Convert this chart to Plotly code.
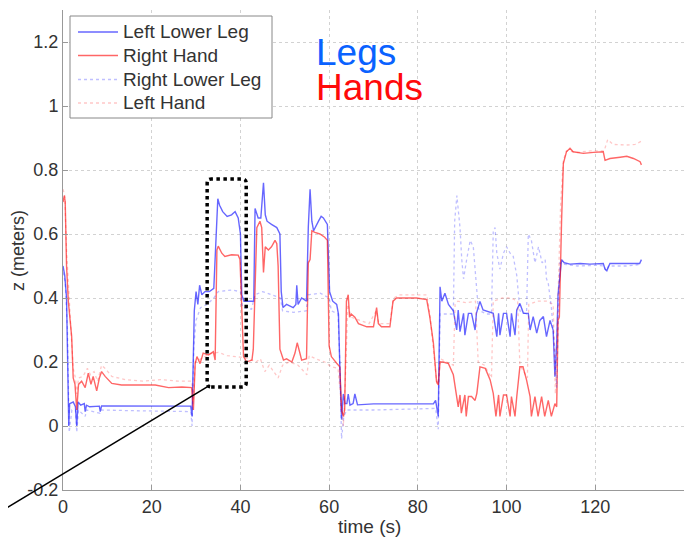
import plotly.graph_objects as go

# ---------------- data ----------------
lll_t = [0, 0.4, 0.8, 1.1, 1.3, 1.5, 2.3, 2.8, 3.1, 3.4, 4.0, 4.8, 5.0, 5.3, 6.0, 8.2, 8.4, 8.7, 15, 22, 28.8,
         29.1, 29.3, 29.6, 30.0, 30.4, 30.8, 31.3, 32.0, 33.0, 34.0, 34.4, 34.9, 35.3, 36.0, 37.0, 38.0, 38.8,
         39.5, 40.0, 40.3, 40.8, 42.0, 43.0, 43.3, 44.0, 44.6, 45.2, 45.6, 46.0, 47.0, 48.2, 48.9, 49.2, 49.6,
         50.4, 51.9, 52.5, 52.7, 53.0, 53.8, 54.9, 55.3, 55.7, 56.1, 56.5, 57.6, 58.2, 58.7, 59.6, 60.1, 60.8,
         61.7, 62.1, 62.4, 62.8, 63.2, 63.6, 64.0, 64.3, 64.7, 65.4, 65.8, 66.4, 70, 75, 80, 83.5, 84.0, 84.6,
         85.0, 85.4, 86.1, 86.9, 88.0, 88.75, 89.1, 89.5, 90.3, 90.6, 91.4, 92.1, 92.9, 93.2, 94.0, 94.7, 97.0,
         97.8, 98.2, 98.5, 99.3, 100.0, 100.8, 101.1, 101.9, 102.3, 103.0, 103.8, 104.9, 105.3, 106.0, 106.8,
         107.5, 108.3, 109.0, 109.8, 110.5, 110.9, 111.3, 111.6, 112.4, 113, 114.3, 116.6, 118.8, 121.8, 122.2,
         122.6, 123.3, 126.3, 130.0, 130.4]
lll_z = [0.50, 0.47, 0.40, 0.20, 0.0, 0.07, 0.075, 0.06, 0.0, 0.075, 0.065, 0.07, 0.045, 0.065, 0.06, 0.062, 0.045,
         0.063, 0.063, 0.063, 0.062, 0.03, 0.20, 0.36, 0.42, 0.38, 0.44, 0.41, 0.42, 0.42, 0.43, 0.55, 0.71, 0.69,
         0.67, 0.655, 0.66, 0.67, 0.65, 0.60, 0.41, 0.39, 0.39, 0.39, 0.68, 0.65, 0.65, 0.76, 0.66, 0.64, 0.63,
         0.62, 0.60, 0.42, 0.37, 0.38, 0.37, 0.38, 0.44, 0.38, 0.40, 0.39, 0.62, 0.74, 0.64, 0.61, 0.64, 0.655,
         0.65, 0.63, 0.42, 0.39, 0.38, 0.35, 0.19, 0.02, 0.10, 0.07, 0.07, 0.10, 0.065, 0.07, 0.10, 0.066, 0.069,
         0.068, 0.069, 0.069, 0.08, 0.03, 0.435, 0.39, 0.415, 0.38, 0.36, 0.30, 0.3625, 0.295, 0.352, 0.284, 0.352,
         0.352, 0.30, 0.352, 0.389, 0.3625, 0.352, 0.279, 0.352, 0.284, 0.352, 0.352, 0.279, 0.352, 0.284, 0.3625,
         0.383, 0.352, 0.352, 0.30, 0.342, 0.29, 0.33, 0.342, 0.279, 0.33, 0.30, 0.154, 0.26, 0.41, 0.52, 0.51,
         0.506, 0.508, 0.506, 0.508, 0.49, 0.485, 0.508, 0.508, 0.508, 0.52]

rh_t = [0, 0.3, 0.5, 0.8, 1.2, 1.6, 1.95, 2.3, 2.7, 3.1, 3.5, 4.2, 5.0, 5.7, 6.3, 6.8, 7.6, 8.2, 8.7, 9.5, 11, 13.2,
        17, 20.8, 23.8, 26.8, 29.0, 29.4, 29.8, 30.2, 30.9, 31.6, 32.8, 33.9, 34.3, 34.7, 35.0, 35.8, 36.5, 38.0,
        39.5, 39.9, 40.7, 41.4, 42.6, 42.9, 43.7, 44.4, 44.8, 45.2, 45.6, 46.3, 47.0, 47.8, 48.2, 48.5, 48.9, 49.7,
        50.4, 51.6, 52.3, 52.8, 53.4, 53.8, 54.9, 55.3, 55.7, 56.1, 56.8, 57.9, 59.0, 59.6, 60.0, 60.5, 61.7, 62.4,
        62.8, 63.2, 63.5, 63.9, 64.3, 64.6, 65.0, 65.8, 66.6, 67.4, 68.5, 70.0, 70.7, 71.1, 71.8, 73.7, 74.4, 75.2,
        77.4, 79.7, 82.0, 82.7, 83.5, 84.2, 84.6, 85.0, 85.7, 86.9, 88.0, 88.75, 89.1, 89.5, 89.8, 90.6, 90.9, 91.4,
        92.1, 92.9, 93.3, 94.0, 95.2, 96.3, 97.0, 97.6, 98.2, 98.5, 99.3, 100.0, 100.8, 101.1, 101.9, 102.3, 103.0,
        103.7, 104.5, 105.3, 105.6, 106.4, 107.1, 107.9, 108.6, 109.4, 110.1, 110.9, 111.3, 111.6, 111.9, 112.4,
        112.8, 113.5, 114.3, 115.0, 117.3, 119.6, 121.8, 122.2, 123.3, 125.6, 127.1, 128.6, 130.1, 130.4]
rh_z = [0.70, 0.72, 0.70, 0.50, 0.39, 0.33, 0.28, 0.15, 0.13, 0.05, 0.13, 0.14, 0.12, 0.165, 0.13, 0.155, 0.11, 0.15,
        0.17, 0.155, 0.133, 0.128, 0.128, 0.128, 0.12, 0.122, 0.12, 0.05, 0.195, 0.217, 0.195, 0.228, 0.222, 0.232,
        0.206, 0.55, 0.562, 0.54, 0.53, 0.535, 0.534, 0.52, 0.217, 0.20, 0.206, 0.24, 0.62, 0.64, 0.62, 0.48, 0.56,
        0.55, 0.56, 0.58, 0.57, 0.50, 0.24, 0.206, 0.21, 0.20, 0.228, 0.26, 0.228, 0.206, 0.21, 0.51, 0.52, 0.61,
        0.605, 0.60, 0.59, 0.58, 0.25, 0.217, 0.196, 0.185, 0.05, 0.03, 0.05, 0.39, 0.41, 0.34, 0.35, 0.34, 0.32,
        0.315, 0.31, 0.31, 0.37, 0.32, 0.31, 0.31, 0.39, 0.40, 0.40, 0.40, 0.395, 0.34, 0.26, 0.14, 0.128, 0.20,
        0.20, 0.195, 0.16, 0.097, 0.06, 0.097, 0.04, 0.097, 0.03, 0.092, 0.092, 0.08, 0.102, 0.185, 0.18, 0.144,
        0.102, 0.03, 0.097, 0.03, 0.097, 0.097, 0.03, 0.092, 0.03, 0.092, 0.185, 0.185, 0.144, 0.092, 0.03, 0.092,
        0.03, 0.092, 0.03, 0.08, 0.03, 0.07, 0.06, 0.33, 0.34, 0.64, 0.82, 0.857, 0.868, 0.857, 0.852, 0.855,
        0.857, 0.83, 0.836, 0.84, 0.843, 0.836, 0.826, 0.816]

rll_t = [0, 0.5, 1.0, 1.4, 2.0, 2.8, 3.1, 3.5, 5.0, 5.3, 8.3, 8.6, 15, 22, 28.8, 29.1, 29.5, 30.0, 31.0, 32.5, 34.0,
         35.0, 38.0, 40.0, 40.5, 42.5, 43.3, 45.0, 47.0, 49.0, 49.5, 52.0, 54.8, 55.3, 58.0, 60.0, 60.5, 62.0, 62.4,
         62.8, 63.3, 64.0, 70, 80, 84.0, 84.6, 85.0, 88.0, 88.3, 88.8, 89.2, 89.5, 89.9, 90.3, 91.0, 91.8, 92.5,
         93.3, 93.6, 94.0, 95.5, 96.6, 97.0, 97.4, 97.8, 98.5, 99.3, 100.0, 100.8, 101.5, 102.3, 103.0, 104.5,
         104.9, 105.6, 106.4, 107.2, 108.0, 108.7, 109.0, 109.4, 110.1, 110.9, 111.3, 111.6, 112.0, 113, 116, 120,
         122, 122.4, 123, 127, 130.4]
rll_z = [0.48, 0.45, 0.30, -0.02, 0.05, 0.05, -0.02, 0.05, 0.03, 0.05, 0.04, 0.05, 0.048, 0.047, 0.045, 0.0, 0.25,
         0.33, 0.37, 0.38, 0.40, 0.42, 0.425, 0.42, 0.37, 0.365, 0.41, 0.42, 0.41, 0.40, 0.36, 0.355, 0.36, 0.41,
         0.415, 0.40, 0.36, 0.35, 0.20, -0.04, 0.03, 0.05, 0.05, 0.052, 0.055, -0.01, 0.35, 0.35, 0.64, 0.72, 0.65,
         0.62, 0.52, 0.46, 0.52, 0.58, 0.56, 0.435, 0.37, 0.36, 0.35, 0.35, 0.61, 0.62, 0.54, 0.49, 0.54, 0.56, 0.54,
         0.53, 0.47, 0.36, 0.35, 0.60, 0.58, 0.51, 0.56, 0.51, 0.52, 0.46, 0.446, 0.37, 0.23, 0.12, 0.33, 0.51,
         0.505, 0.50, 0.502, 0.50, 0.485, 0.50, 0.50, 0.505]

lh_t = [0, 0.4, 0.8, 1.3, 1.8, 2.3, 2.8, 3.1, 3.5, 4.5, 5.5, 6.2, 7.0, 7.8, 8.7, 9.5, 11, 14, 18, 22, 26, 29.0, 29.4,
        29.8, 31, 33, 35, 37, 40, 42, 43.5, 44.5, 45.5, 46.5, 47.5, 48.5, 49.5, 51, 53, 55, 55.5, 57, 59, 60.5, 62,
        62.6, 63.2, 63.8, 64.2, 65, 67, 69, 70.6, 71.2, 73.7, 74.5, 76, 80, 82, 82.7, 83.5, 84.3, 84.7, 85.1, 86.5,
        88.0, 88.4, 89, 91, 93, 93.6, 95, 96.6, 97.0, 99, 101, 102.5, 103.0, 104.7, 105.0, 107, 109, 110.5, 111.0,
        111.5, 112.2, 112.8, 113.5, 116, 119, 122, 122.8, 124, 127, 129, 130.4]
lh_z = [0.74, 0.72, 0.55, 0.40, 0.30, 0.18, 0.15, 0.10, 0.15, 0.155, 0.18, 0.16, 0.17, 0.14, 0.19, 0.18, 0.155, 0.145,
        0.14, 0.145, 0.14, 0.14, 0.08, 0.20, 0.21, 0.225, 0.23, 0.22, 0.215, 0.21, 0.20, 0.21, 0.17, 0.19, 0.17, 0.15,
        0.19, 0.20, 0.19, 0.16, 0.22, 0.21, 0.20, 0.185, 0.18, 0.08, 0.0, 0.20, 0.38, 0.34, 0.33, 0.32, 0.36, 0.32,
        0.32, 0.40, 0.41, 0.41, 0.41, 0.35, 0.25, 0.13, 0.15, 0.21, 0.20, 0.19, 0.38, 0.39, 0.385, 0.39, 0.20, 0.19,
        0.15, 0.39, 0.40, 0.40, 0.39, 0.19, 0.15, 0.38, 0.39, 0.39, 0.38, 0.10, 0.35, 0.70, 0.83, 0.86, 0.855, 0.86,
        0.86, 0.895, 0.88, 0.878, 0.88, 0.89]

series_names = ["Left Lower Leg", "Right Hand", "Right Lower Leg", "Left Hand"]

x_ticks = [0, 20, 40, 60, 80, 100, 120, 140]
x_tick_labels = ["0", "20", "40", "60", "80", "100", "120", "140"]
y_ticks = [-0.2, 0, 0.2, 0.4, 0.6, 0.8, 1, 1.2]
y_tick_labels = ["-0.2", "0", "0.2", "0.4", "0.6", "0.8", "1", "1.2"]
x_range = [0, 140]
y_range = [-0.2, 1.3]

# callout (dotted box around 32.5-41.3 s and the pointer line), data units
box_t = [32.5, 41.3]
box_z = [0.122, 0.772]
pointer_t = [-15.3, 32.5]
pointer_z = [-0.278, 0.122]

FONT = "Liberation Sans, Arial, sans-serif"

styles = [
    dict(color="rgba(0,0,255,0.6)", width=1.4, dash="solid"),
    dict(color="rgba(255,0,0,0.6)", width=1.4, dash="solid"),
    dict(color="rgba(0,0,255,0.25)", width=1.3, dash="dot"),
    dict(color="rgba(255,0,0,0.22)", width=1.3, dash="dot"),
]

fig = go.Figure()
for name, tt, zz, st in zip(series_names, [lll_t, rh_t, rll_t, lh_t], [lll_z, rh_z, rll_z, lh_z], styles):
    fig.add_trace(go.Scatter(x=tt, y=zz, mode="lines", name=name, line=st, showlegend=False))

# rounded dotted rectangle
rx, ry = 0.9, 0.0125
x0, x1 = box_t
y0, y1 = box_z
path = (f"M {x0+rx},{y0} L {x1-rx},{y0} Q {x1},{y0} {x1},{y0+ry} L {x1},{y1-ry} Q {x1},{y1} {x1-rx},{y1} "
        f"L {x0+rx},{y1} Q {x0},{y1} {x0},{y1-ry} L {x0},{y0+ry} Q {x0},{y0} {x0+rx},{y0} Z")
fig.add_shape(type="path", path=path, xref="x", yref="y",
              line=dict(color="black", width=3.5, dash="dot"))

# plot area geometry (pixels of the page) used to place the legend box / labels in paper units
PLOT_L, PLOT_R, PLOT_T, PLOT_B = 63, 684, 10, 490

def pap_x(px):
    return (px - PLOT_L) / (PLOT_R - PLOT_L)

def pap_y(py):
    return (PLOT_B - py) / (PLOT_B - PLOT_T)

def dx(t):
    return (t - x_range[0]) / (x_range[1] - x_range[0])

def dy(z):
    return (z - y_range[0]) / (y_range[1] - y_range[0])

fig.add_shape(type="line", xref="paper", yref="paper",
              x0=dx(pointer_t[0]), y0=dy(pointer_z[0]), x1=dx(pointer_t[1]), y1=dy(pointer_z[1]),
              line=dict(color="black", width=1.5))

# legend (MATLAB-style compact box)
fig.add_shape(type="rect", xref="paper", yref="paper", x0=pap_x(70), x1=pap_x(272), y0=pap_y(118), y1=pap_y(16),
              line=dict(color="#888", width=1), fillcolor="white", layer="above")
row_y = [32, 55.5, 79.5, 103]
for name, st, ry_ in zip(series_names, styles, row_y):
    fig.add_shape(type="line", xref="paper", yref="paper", x0=pap_x(78), x1=pap_x(118),
                  y0=pap_y(ry_), y1=pap_y(ry_), line=st, layer="above")
    fig.add_annotation(text=name, xref="paper", yref="paper", x=pap_x(121), y=pap_y(ry_),
                       xanchor="left", yanchor="middle", showarrow=False,
                       font=dict(family=FONT, size=19, color="#333"))

fig.add_annotation(text="Legs", xref="paper", yref="paper", x=0.404, y=0.912, xanchor="left", yanchor="middle",
                   showarrow=False, font=dict(family=FONT, size=37, color="#0a62ff"))
fig.add_annotation(text="Hands", xref="paper", yref="paper", x=0.404, y=0.8375, xanchor="left", yanchor="middle",
                   showarrow=False, font=dict(family=FONT, size=37, color="#ff0a0a"))
fig.add_annotation(text="z (meters)", xref="paper", yref="paper", x=-0.0725, y=0.5, textangle=-90,
                   xanchor="center", yanchor="middle", showarrow=False,
                   font=dict(family=FONT, size=18, color="#333"))
fig.add_annotation(text="time (s)", xref="paper", yref="paper", x=0.494, y=-0.077,
                   xanchor="center", yanchor="middle", showarrow=False,
                   font=dict(family=FONT, size=19, color="#333"))

axis_common = dict(showline=True, linecolor="#999", linewidth=1, ticks="inside", ticklen=5,
                   tickcolor="#999", showgrid=True, gridcolor="#d2d2d2", griddash="dot", gridwidth=1,
                   zeroline=False, mirror=False, tickfont=dict(family=FONT, size=18, color="#333"))

# the page body has an 8px margin; the figure is sized so the plot area sits where the reference has it
fig.update_layout(
    width=685, height=533,
    margin=dict(l=55, r=9, t=2, b=51),
    plot_bgcolor="white", paper_bgcolor="white",
    xaxis=dict(range=x_range, tickvals=x_ticks, ticktext=x_tick_labels, **axis_common),
    yaxis=dict(range=y_range, tickvals=y_ticks, ticktext=y_tick_labels, **axis_common),
    showlegend=False,
)

fig.write_html("out.html")
